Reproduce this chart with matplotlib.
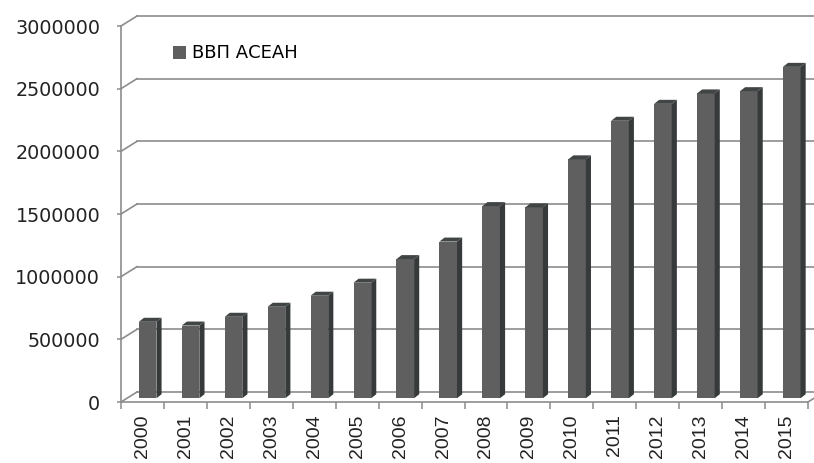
import matplotlib.pyplot as plt
from matplotlib.patches import Polygon

years = ['2000', '2001', '2002', '2003', '2004', '2005', '2006', '2007',
         '2008', '2009', '2010', '2011', '2012', '2013', '2014', '2015']
gdp = [610000, 580000, 650000, 730000, 818000, 922000, 1110000, 1250000,
       1533000, 1523000, 1906000, 2214000, 2349000, 2432000, 2450000, 2644000]
yticks = [0, 500000, 1000000, 1500000, 2000000, 2500000, 3000000]
series_name = 'ВВП АСЕАН'

# fake 3d: depth offset of the back wall and of the bars, in data units
wall_dx, wall_dy = 0.373, 80000
bar_dx, bar_dy = 0.12, 30000
bar_w = 0.41
side_dx, top_dy = 0.12, 32000

grid_col = '#8c8c8c'
front_col = '#5f5f5f'
side_col = '#363a3a'
top_col = '#414545'

fig = plt.figure(figsize=(8.14, 4.63), dpi=100)
ax = fig.add_axes([121 / 814, 61 / 463, 693 / 814, 402 / 463])
n = len(years)
ax.set_xlim(0, 693 / 42.94)
ax.set_ylim(0, 402 * 7979)

# back wall gridlines and side wall diagonals
for v in yticks:
    ax.plot([wall_dx, 17], [v + wall_dy, v + wall_dy], color=grid_col, lw=1.2, zorder=1, clip_on=False)
    ax.plot([0, wall_dx], [v, v + wall_dy], color=grid_col, lw=1.2, zorder=1, clip_on=False)
ax.plot([n, n + wall_dx], [0, wall_dy], color=grid_col, lw=1.2, zorder=1, clip_on=False)

# bars: front face, side face, top face
xs = [i + 0.5 + bar_dx for i in range(n)]
ax.bar(xs, gdp, width=bar_w, bottom=bar_dy, color=front_col, zorder=3, label=series_name)
for x, v in zip(xs, gdp):
    r = x + bar_w / 2
    l = x - bar_w / 2
    top = v + bar_dy
    side = Polygon([(r, bar_dy), (r + side_dx, bar_dy + top_dy), (r + side_dx, top + top_dy), (r, top)],
                   closed=True, color=side_col, lw=0, zorder=3)
    lid = Polygon([(l, top), (l + side_dx, top + top_dy), (r + side_dx, top + top_dy), (r, top)],
                  closed=True, color=top_col, lw=0, zorder=3)
    ax.add_patch(side)
    ax.add_patch(lid)

# axes
for s in ['top', 'right']:
    ax.spines[s].set_visible(False)
ax.spines['left'].set_bounds(0, 3000000)
ax.spines['bottom'].set_bounds(0, n)
for s in ['left', 'bottom']:
    ax.spines[s].set_color(grid_col)
    ax.spines[s].set_linewidth(1.2)
    ax.spines[s].set_zorder(2)

ax.set_yticks(yticks)
ax.set_yticklabels([str(t) for t in yticks], fontsize=13.8, family='DejaVu Sans', color='#222222')
ax.tick_params(axis='y', length=3, width=1.1, color=grid_col, pad=12)

ax.set_xticks(range(n + 1))
ax.set_xticklabels([])
ax.tick_params(axis='x', which='major', length=5, width=1.1, color=grid_col)
ax.set_xticks([i + 0.5 for i in range(n)], minor=True)
ax.set_xticklabels(years, minor=True, rotation=90, va='top', fontsize=14,
                   family='Liberation Sans', color='#222222')
ax.tick_params(axis='x', which='minor', length=0, pad=9)

ax.legend(loc='center left', bbox_to_anchor=(173 / 814, 1 - 53.5 / 463),
          bbox_transform=fig.transFigure, frameon=False,
          handlelength=0.7, handleheight=0.7, handletextpad=0.35,
          borderpad=0, borderaxespad=0, prop={'family': 'DejaVu Sans', 'size': 13})

fig.savefig('out.png', dpi=100)
